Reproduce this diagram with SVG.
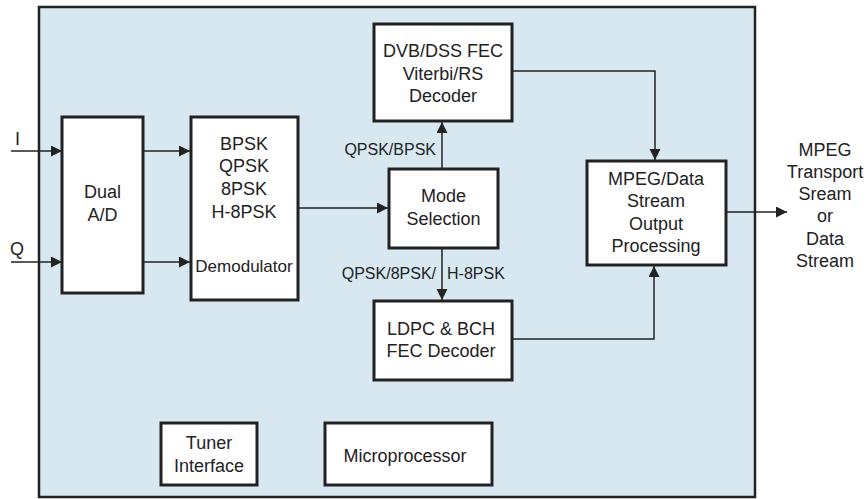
<svg xmlns="http://www.w3.org/2000/svg" width="868" height="499" viewBox="0 0 868 499">
<defs>
<style>
text{font-family:"Liberation Sans",Arial,sans-serif;font-size:18px;fill:#222;text-anchor:middle}
.lbl{font-size:16px}
.box{fill:#fff;stroke:#222;stroke-width:3}
.wire{fill:none;stroke:#222;stroke-width:1.5}
</style>
<marker id="ah" markerUnits="userSpaceOnUse" markerWidth="12" markerHeight="12" refX="11" refY="5.5" orient="auto">
<path d="M0,0 L11,5.5 L0,11 z" fill="#222"/>
</marker>
</defs>
<rect id="chip" x="39" y="7" width="716" height="490" fill="#d7e8f1" stroke="#222" stroke-width="2.5"/>
<g id="connectors">
<path class="wire" d="M11,151 H62" marker-end="url(#ah)"/>
<path class="wire" d="M11,262 H62" marker-end="url(#ah)"/>
<path class="wire" d="M143,151 H190" marker-end="url(#ah)"/>
<path class="wire" d="M143,262 H190" marker-end="url(#ah)"/>
<path class="wire" d="M298,208 H388" marker-end="url(#ah)"/>
<path class="wire" d="M442,169 V122" marker-end="url(#ah)"/>
<path class="wire" d="M442,248 V300" marker-end="url(#ah)"/>
<path class="wire" d="M512,71 H655 V160" marker-end="url(#ah)"/>
<path class="wire" d="M512,339 H654 V266" marker-end="url(#ah)"/>
<path class="wire" d="M726,212 H787" marker-end="url(#ah)"/>
<text class="lbl" x="436" y="155" style="text-anchor:end">QPSK/BPSK</text>
<text class="lbl" x="436" y="279" style="text-anchor:end">QPSK/8PSK/</text>
<text class="lbl" x="447" y="279" style="text-anchor:start">H-8PSK</text>
</g>
<g id="in-I"><text x="15" y="145" style="text-anchor:start">I</text></g>
<g id="in-Q"><text x="10" y="255" style="text-anchor:start">Q</text></g>
<g id="ad">
<rect class="box" x="62" y="117" width="81" height="176"/>
<text x="102.5" y="198">Dual</text>
<text x="102.5" y="221">A/D</text>
</g>
<g id="demod">
<rect class="box" x="191" y="117" width="107" height="183"/>
<text x="244" y="150">BPSK</text>
<text x="244" y="172">QPSK</text>
<text x="244" y="195">8PSK</text>
<text x="244" y="218">H-8PSK</text>
<text x="244" y="272" style="font-size:17px">Demodulator</text>
</g>
<g id="dvb">
<rect class="box" x="374" y="24" width="138" height="97"/>
<text x="443" y="57">DVB/DSS FEC</text>
<text x="443" y="80">Viterbi/RS</text>
<text x="443" y="102">Decoder</text>
</g>
<g id="mode">
<rect class="box" x="389" y="169" width="109" height="79"/>
<text x="443.5" y="202">Mode</text>
<text x="443.5" y="225">Selection</text>
</g>
<g id="ldpc">
<rect class="box" x="374" y="301" width="138" height="79"/>
<text x="441" y="335">LDPC &amp; BCH</text>
<text x="441" y="357">FEC Decoder</text>
</g>
<g id="mpeg">
<rect class="box" x="587" y="161" width="139" height="104"/>
<text x="656" y="185">MPEG/Data</text>
<text x="656" y="207">Stream</text>
<text x="656" y="230">Output</text>
<text x="656" y="252">Processing</text>
</g>
<g id="out">
<text x="825" y="156">MPEG</text>
<text x="825" y="178">Transport</text>
<text x="825" y="200">Sream</text>
<text x="825" y="222">or</text>
<text x="825" y="245">Data</text>
<text x="825" y="267">Stream</text>
</g>
<g id="tuner">
<rect class="box" x="161" y="423" width="96" height="62"/>
<text x="209" y="449">Tuner</text>
<text x="209" y="472">Interface</text>
</g>
<g id="micro">
<rect class="box" x="325" y="423" width="167" height="62"/>
<text x="405" y="462">Microprocessor</text>
</g>
</svg>
